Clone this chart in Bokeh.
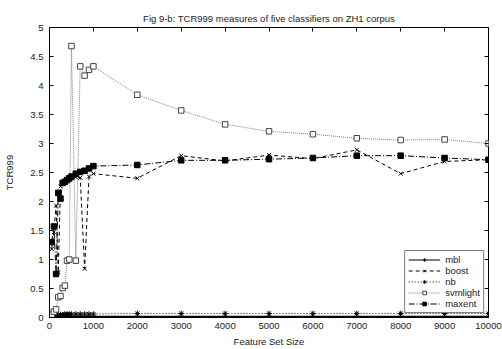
from bokeh.plotting import figure
from bokeh.models import (FixedTicker, LinearAxis, Legend, LegendItem,
                          NumeralTickFormatter, Title)
from bokeh.embed import file_html
from bokeh.resources import INLINE

# ---------------- data ----------------
feature_sizes = [50, 100, 150, 200, 250, 300, 350, 400, 450, 500, 600, 700, 800, 900, 1000,
                 2000, 3000, 4000, 5000, 6000, 7000, 8000, 9000, 10000]
mbl = [0.01, 0.02, 0.02, 0.02, 0.02, 0.02, 0.02, 0.02, 0.02, 0.02, 0.02, 0.02, 0.02, 0.02, 0.02,
       0.02, 0.02, 0.02, 0.02, 0.02, 0.02, 0.02, 0.02, 0.02]
nb = [0.03, 0.04, 0.05, 0.05, 0.05, 0.05, 0.06, 0.06, 0.06, 0.06, 0.06, 0.06, 0.06, 0.06, 0.06,
      0.07, 0.07, 0.07, 0.07, 0.07, 0.07, 0.07, 0.07, 0.07]
boost = [1.18, 1.47, 1.93, 0.78, 2.26, 2.30, 2.33, 2.36, 2.38, 2.40, 2.42, 2.41, 0.84, 2.43, 2.48,
         2.40, 2.79, 2.70, 2.80, 2.74, 2.89, 2.48, 2.69, 2.72]
svmlight = [0.05, 0.10, 0.14, 0.35, 0.37, 0.51, 0.55, 0.98, 1.00, 4.68, 0.98, 4.33, 4.17, 4.27, 4.33,
            3.84, 3.57, 3.33, 3.21, 3.16, 3.09, 3.06, 3.07, 3.00]
maxent = [1.30, 1.57, 0.75, 2.15, 2.05, 2.32, 2.34, 2.37, 2.40, 2.43, 2.48, 2.51, 2.53, 2.57, 2.61,
          2.63, 2.71, 2.71, 2.73, 2.75, 2.79, 2.79, 2.75, 2.72]

x_ticks = [0, 1000, 2000, 3000, 4000, 5000, 6000, 7000, 8000, 9000, 10000]
y_ticks = [0, 0.5, 1, 1.5, 2, 2.5, 3, 3.5, 4, 4.5, 5]

title_text = "Fig 9-b: TCR999 measures of five classifiers on ZH1 corpus"
x_label = "Feature Set Size"
y_label = "TCR999"

FONT = "Liberation Sans"
FS = "9.5px"

p = figure(width=502, height=349, output_backend="svg", toolbar_location=None,
           x_range=(0, 10000), y_range=(0, 5),
           min_border_left=49, min_border_right=14, min_border_top=27, min_border_bottom=32)
p.title = Title(text=title_text, align="center", text_font=FONT, text_font_size=FS,
                text_font_style="normal", text_color="#222222", standoff=8)
p.grid.visible = False
p.outline_line_color = "black"
p.outline_line_width = 1
p.background_fill_color = "white"
p.border_fill_color = "white"

for ax in (p.xaxis[0], p.yaxis[0]):
    ax.major_tick_in = 4
    ax.major_tick_out = 0
    ax.minor_tick_line_color = None
    ax.axis_line_color = "black"
    ax.major_label_text_font = FONT
    ax.major_label_text_font_size = FS
    ax.major_label_text_color = "#222222"
    ax.axis_label_text_font = FONT
    ax.axis_label_text_font_size = FS
    ax.axis_label_text_font_style = "normal"
    ax.axis_label_text_color = "#222222"

p.xaxis[0].ticker = FixedTicker(ticks=x_ticks)
p.yaxis[0].ticker = FixedTicker(ticks=y_ticks)
p.xaxis[0].formatter = NumeralTickFormatter(format="0")
p.yaxis[0].formatter = NumeralTickFormatter(format="0.[0]")
p.xaxis[0].axis_label = x_label
p.yaxis[0].axis_label = y_label
p.xaxis[0].major_label_standoff = 5
p.xaxis[0].axis_label_standoff = 4
p.yaxis[0].major_label_standoff = 6
p.yaxis[0].axis_label_standoff = 12

# mirrored ticks (top and right)
top = LinearAxis(ticker=FixedTicker(ticks=x_ticks), major_tick_in=4, major_tick_out=0,
                 minor_tick_line_color=None, axis_line_color=None,
                 major_label_text_color=None, major_label_text_font_size="1px",
                 major_label_standoff=0)
right = LinearAxis(ticker=FixedTicker(ticks=y_ticks), major_tick_in=4, major_tick_out=0,
                   minor_tick_line_color=None, axis_line_color=None,
                   major_label_text_color=None, major_label_text_font_size="1px",
                   major_label_standoff=0)
p.add_layout(top, "above")
p.add_layout(right, "right")

series = [
    ("mbl", mbl, "solid", "black", "cross", "black", 1.2),
    ("boost", boost, "4 3", "black", "x", "black", 1.0),
    ("nb", nb, "1 2", "black", "asterisk", "black", 1.0),
    ("svmlight", svmlight, "1 1", "#808080", "square", "white", 1.0),
    ("maxent", maxent, "6 2 1 2", "black", "square", "black", 1.0),
]

items = []
for name, ys, dash, color, marker, fill, lw in series:
    r1 = p.line(feature_sizes, ys, line_color=color, line_dash=dash, line_width=lw)
    mcol = "black" if name != "svmlight" else "#444444"
    r2 = p.scatter(feature_sizes, ys, marker=marker, size=5.5, line_color=mcol,
                   fill_color=fill, line_width=1)
    items.append(LegendItem(label=name, renderers=[r1, r2]))

legend = Legend(items=items, location="bottom_right", margin=4, padding=3, spacing=0,
                glyph_width=32, glyph_height=9, label_height=9, label_standoff=5,
                label_text_line_height=1.0,
                label_text_font=FONT, label_text_font_size=FS, label_text_color="#222222",
                border_line_color="black", border_line_width=1,
                background_fill_color="white", background_fill_alpha=1.0)
p.add_layout(legend, "center")

open("out.html", "w").write(file_html(p, INLINE))
